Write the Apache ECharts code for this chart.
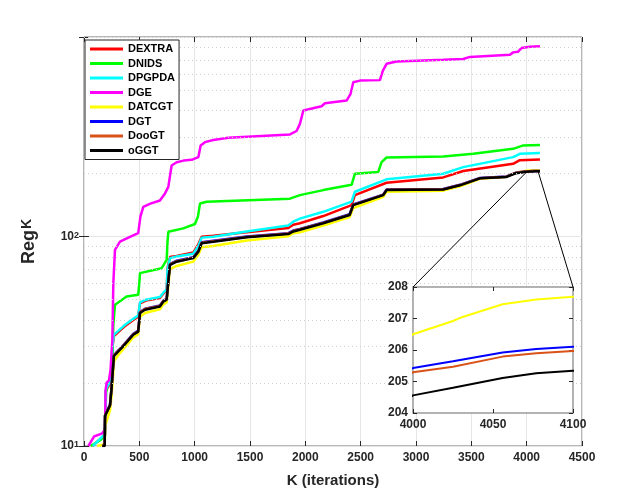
<!DOCTYPE html>
<html>
<head>
<meta charset="utf-8">
<script src="https://cdn.jsdelivr.net/npm/echarts@6/dist/echarts.min.js"></script>
<style>
  html, body { margin: 0; padding: 0; background: #fff; }
  #container { width: 644px; height: 502px; }
</style>
</head>
<body>
<div id="container"></div>
<script>
var dom = document.getElementById("container");
var myChart = echarts.init(dom);

// series names and colours
var names = ["DEXTRA", "DNIDS", "DPGPDA", "DGE", "DATCGT", "DGT", "DooGT", "oGGT"];
var colors = ["#ff0000", "#00ff00", "#00ffff", "#ff00ff", "#ffff00", "#0000ff", "#d95319", "#000000"];

// values: [K, Reg]
var dextra = [[75,10.0],[165,11.0],[190,11.3],[196,18.3],[230,19.7],[245,21.5],[256,29.5],[270,33.5],[310,35],[360,37],[445,40],[490,41.5],[506,48],[560,49.5],[686,51],[717,53.5],[747,55.5],[755,71],[777,80],[837,81],[987,84],[1033,92],[1063,100],[1168,101],[1470,105],[1846,110],[1891,114],[1951,116],[2162,125.5],[2418,141.5],[2448,158],[2734,181],[3246,192],[3427,206],[3878,223],[3938,232],[4120,234]];
var dnids = [[60,10.0],[150,10.7],[187,11.2],[200,18],[215,20],[240,21],[255,24],[265,38],[280,47.3],[385,51.8],[490,52.8],[500,60],[506,67],[702,70.7],[747,77.5],[755,95],[762,105.6],[897,109.6],[1003,115],[1030,125],[1048,144],[1108,147],[1861,152],[1951,158],[2162,167],[2418,177],[2448,200],[2659,204],[2689,227],[2734,239],[3246,242],[3517,249],[3878,263],[3969,273],[4120,274]];
var dpgpda = [[80,10.0],[165,11.1],[190,11.3],[196,18.6],[230,20],[245,22],[256,30],[270,34],[310,35.5],[360,37.5],[445,40.5],[490,42],[506,48.5],[560,50],[686,51.5],[717,54],[747,56],[755,70],[777,79],[837,80.5],[987,83],[1033,90],[1063,99],[1168,100],[1470,106],[1846,113],[1891,118],[1951,122],[2162,131.5],[2418,147],[2448,164],[2734,188],[3246,200],[3427,215],[3878,240],[3938,249],[4120,251]];
var dge = [[40,10.0],[90,11.1],[165,11.5],[190,12.0],[195,18.5],[205,20.1],[226,20.6],[240,23.2],[256,32],[265,60],[280,86.5],[325,94.7],[420,100],[490,104],[510,125],[536,139],[600,144],[686,149],[732,161],[762,173],[780,200],[792,219],[837,227],[900,231],[973,233],[1033,240],[1054,273],[1093,283],[1168,290],[1304,297],[1861,308],[1921,320],[1951,346],[1982,401],[2147,420],[2177,434],[2373,447],[2409,482],[2433,547],[2494,557],[2674,560],[2700,620],[2734,670],[2824,688],[3246,700],[3427,707],[3487,723],[3849,741],[3878,760],[3923,766],[3954,798],[4029,809],[4120,812]];
var datcgt = [[120,10.0],[187,10.2],[192,12.5],[235,14.8],[250,17.5],[272,25.5],[310,27.2],[355,29],[445,33],[490,34.2],[506,41.5],[551,43.2],[686,45],[717,47.5],[747,48.5],[762,58],[777,70],[837,72.5],[987,76],[1033,82],[1063,89],[1168,90.3],[1470,96],[1846,100.5],[1891,104],[1951,105],[2162,113],[2400,124],[2433,137],[2704,155],[2734,164],[3246,166],[3397,174],[3578,189],[3818,193.5],[3900,202],[4000,206.5],[4025,206.92],[4031,207.05],[4056,207.45],[4077,207.6],[4100,207.69],[4120,207.75]];
var dgt = [[165,10.0],[187,10.1],[190,14.0],[235,15.8],[248,18.8],[270,27.2],[310,28.6],[355,30.3],[445,34.4],[490,35.6],[506,43.7],[551,45.3],[686,46.9],[717,49.5],[747,50.5],[762,61.6],[777,74],[837,76.8],[987,79.8],[1033,85.6],[1063,94],[1168,95.6],[1470,100.3],[1846,104],[1891,107],[1951,109],[2162,117],[2400,128],[2433,142.5],[2704,159],[2734,168],[3246,169],[3397,177],[3578,191],[3818,194],[3900,202],[4000,205.43],[4025,205.64],[4056,205.92],[4077,206.03],[4100,206.1],[4120,206.15]];
var doogt = [[165,10.0],[187,10.05],[190,14.0],[235,15.7],[248,18.7],[270,27.1],[310,28.5],[355,30.2],[445,34.2],[490,35.4],[506,43.5],[551,45.1],[686,46.7],[717,49.3],[747,50.3],[762,61.3],[777,73.7],[837,76.4],[987,79.4],[1033,85.2],[1063,93.5],[1168,95.2],[1470,99.8],[1846,103.5],[1891,106.5],[1951,108.5],[2162,116.5],[2400,127.5],[2433,142],[2704,158.5],[2734,167.5],[3246,168.5],[3397,176.5],[3578,190.5],[3818,193.5],[3900,201.7],[4000,205.29],[4025,205.47],[4056,205.79],[4077,205.9],[4100,205.97],[4120,206]];
var oggt = [[165,10.0],[187,10.0],[190,13.9],[235,15.6],[248,18.6],[270,26.9],[310,28.3],[355,30],[445,34],[490,35.2],[506,43.2],[551,44.8],[686,46.4],[717,49],[747,50],[762,61],[777,73.3],[837,76],[987,79],[1033,84.8],[1063,93],[1168,94.7],[1470,99.3],[1846,103],[1891,106],[1951,108],[2162,116],[2400,127],[2433,141.5],[2704,158],[2734,167],[3246,168],[3397,176],[3578,190],[3818,193],[3900,201],[4000,204.56],[4025,204.8],[4056,205.11],[4077,205.26],[4100,205.34],[4120,205.4]];
var allData = [dextra, dnids, dpgpda, dge, datcgt, dgt, doogt, oggt];

// dotted minor grid on the log axis
var minorGrid = [20, 30, 40, 50, 60, 70, 80, 90, 200, 300, 400, 500, 600, 700, 800, 900];

var axisCol = '#262626';
var font = 'Liberation Sans, Arial, Helvetica, sans-serif';

var series = [{
    type: 'line', data: [], xAxisIndex: 0, yAxisIndex: 0, z: 1, silent: true,
    markLine: {
        silent: true, symbol: 'none', label: { show: false }, animation: false,
        lineStyle: { color: '#cfcfcf', width: 1, type: [1, 3] },
        data: minorGrid.map(function (v) { return { yAxis: v }; })
    }
}];
names.forEach(function (n, i) {
    series.push({
        name: n, type: 'line', data: allData[i], xAxisIndex: 0, yAxisIndex: 0,
        showSymbol: false, symbol: 'none', z: 2,
        lineStyle: { color: colors[i], width: 2.5 }, itemStyle: { color: colors[i] }
    });
});
// zoomed-in copies
[4, 5, 6, 7].forEach(function (i) {
    series.push({
        name: names[i], type: 'line', data: allData[i], xAxisIndex: 2, yAxisIndex: 2,
        showSymbol: false, symbol: 'none', z: 12, clip: true,
        lineStyle: { color: colors[i], width: 2 }, itemStyle: { color: colors[i] }
    });
});

function logLabel(v) {
    if (Math.abs(v - 10) < 1e-6) return '{n|10}{s|1}';
    if (Math.abs(v - 100) < 1e-6) return '{n|10}{s|2}';
    return '';
}
function plain(v) { return String(v); }

var tickLbl = { color: axisCol, fontWeight: 'bold', fontSize: 12, fontFamily: font, formatter: plain };

option = {
    animation: false,
    backgroundColor: '#fff',
    grid: [
        { left: 84, top: 37, width: 498, height: 409, show: true, borderColor: '#6e6e6e', borderWidth: 1, backgroundColor: '#fff' },
        { left: 413, top: 287, width: 160, height: 126, show: true, borderColor: '#9a9a9a', borderWidth: 1.5, backgroundColor: '#fff', z: 10 }
    ],
    legend: {
        orient: 'vertical', left: 85, top: 40,
        data: names,
        icon: 'rect', itemWidth: 33, itemHeight: 3, itemGap: 2.5,
        padding: [3, 4, 3, 5],
        borderColor: axisCol, borderWidth: 1, backgroundColor: '#fff',
        textStyle: { color: '#000', fontWeight: 'bold', fontSize: 11, lineHeight: 12, fontFamily: font },
        z: 20
    },
    xAxis: [
        {
            type: 'value', gridIndex: 0, min: 0, max: 4500, interval: 500, position: 'bottom',
            name: 'K (iterations)', nameLocation: 'middle', nameGap: 27,
            nameTextStyle: { color: axisCol, fontWeight: 'bold', fontSize: 15, fontFamily: font },
            axisLine: { show: false },
            axisTick: { inside: true, length: 5, lineStyle: { color: axisCol } },
            axisLabel: Object.assign({ margin: 6 }, tickLbl),
            splitLine: { show: true, lineStyle: { color: '#e6e6e6', width: 1 } }
        },
        {
            type: 'value', gridIndex: 0, min: 0, max: 4500, interval: 500, position: 'top',
            axisLine: { show: false }, axisLabel: { show: false },
            axisTick: { inside: true, length: 5, lineStyle: { color: axisCol } },
            splitLine: { show: false }
        },
        {
            type: 'value', gridIndex: 1, min: 4000, max: 4100, interval: 50, position: 'bottom', z: 11,
            axisLine: { show: false },
            axisTick: { inside: true, length: 4, lineStyle: { color: axisCol } },
            axisLabel: Object.assign({ margin: 6 }, tickLbl),
            splitLine: { show: false }
        },
        {
            type: 'value', gridIndex: 1, min: 4000, max: 4100, interval: 50, position: 'top', z: 11,
            axisLine: { show: false }, axisLabel: { show: false },
            axisTick: { inside: true, length: 4, lineStyle: { color: axisCol } },
            splitLine: { show: false }
        }
    ],
    yAxis: [
        {
            type: 'log', logBase: 10, gridIndex: 0, min: 10, max: 900, position: 'left',
            name: '{a|Reg}{k|K}', nameLocation: 'middle', nameGap: 35, nameRotate: 90,
            nameTextStyle: {
                rich: {
                    a: { color: axisCol, fontWeight: 'bold', fontSize: 18, fontFamily: font, verticalAlign: 'bottom', lineHeight: 18 },
                    k: { color: axisCol, fontWeight: 'bold', fontSize: 14, fontFamily: font, verticalAlign: 'top', lineHeight: 14, padding: [0, 0, 16, 1] }
                }
            },
            axisLine: { show: false },
            axisTick: { inside: true, length: 5, lineStyle: { color: axisCol } },
            axisLabel: {
                margin: 5, formatter: logLabel,
                rich: {
                    n: { color: axisCol, fontWeight: 'bold', fontSize: 12, fontFamily: font, verticalAlign: 'bottom', lineHeight: 12 },
                    s: { color: axisCol, fontWeight: 'bold', fontSize: 9, fontFamily: font, verticalAlign: 'top', lineHeight: 9, padding: [0, 0, 10, 0] }
                }
            },
            splitLine: { show: true, lineStyle: { color: '#e6e6e6', width: 1 } }
        },
        {
            type: 'log', logBase: 10, gridIndex: 0, min: 10, max: 900, position: 'right',
            axisLine: { show: false }, axisLabel: { show: false },
            axisTick: { inside: true, length: 5, lineStyle: { color: axisCol } },
            splitLine: { show: false }
        },
        {
            type: 'value', gridIndex: 1, min: 204, max: 208, interval: 1, position: 'left', z: 11,
            axisLine: { show: false },
            axisTick: { inside: true, length: 4, lineStyle: { color: axisCol } },
            axisLabel: Object.assign({ margin: 5 }, tickLbl),
            splitLine: { show: false }
        },
        {
            type: 'value', gridIndex: 1, min: 204, max: 208, interval: 1, position: 'right', z: 11,
            axisLine: { show: false }, axisLabel: { show: false },
            axisTick: { inside: true, length: 4, lineStyle: { color: axisCol } },
            splitLine: { show: false }
        }
    ],
    series: series
};

if (option && typeof option === "object") {
    myChart.setOption(option, true);
}

// lines from the inset corners to the zoomed region
var insetL = myChart.convertToPixel({ xAxisIndex: 2, yAxisIndex: 2 }, [4000, 208]);
var insetR = myChart.convertToPixel({ xAxisIndex: 2, yAxisIndex: 2 }, [4100, 208]);
var mainL = myChart.convertToPixel({ xAxisIndex: 0, yAxisIndex: 0 }, [4000, 204]);
var mainR = myChart.convertToPixel({ xAxisIndex: 0, yAxisIndex: 0 }, [4100, 208]);
myChart.setOption({
    graphic: [
        { type: 'line', z: 15, shape: { x1: insetL[0], y1: insetL[1], x2: mainL[0], y2: mainL[1] }, style: { stroke: '#000', lineWidth: 1 } },
        { type: 'line', z: 15, shape: { x1: insetR[0], y1: insetR[1], x2: mainR[0], y2: mainR[1] }, style: { stroke: '#000', lineWidth: 1 } }
    ]
});
</script>
</body>
</html>
